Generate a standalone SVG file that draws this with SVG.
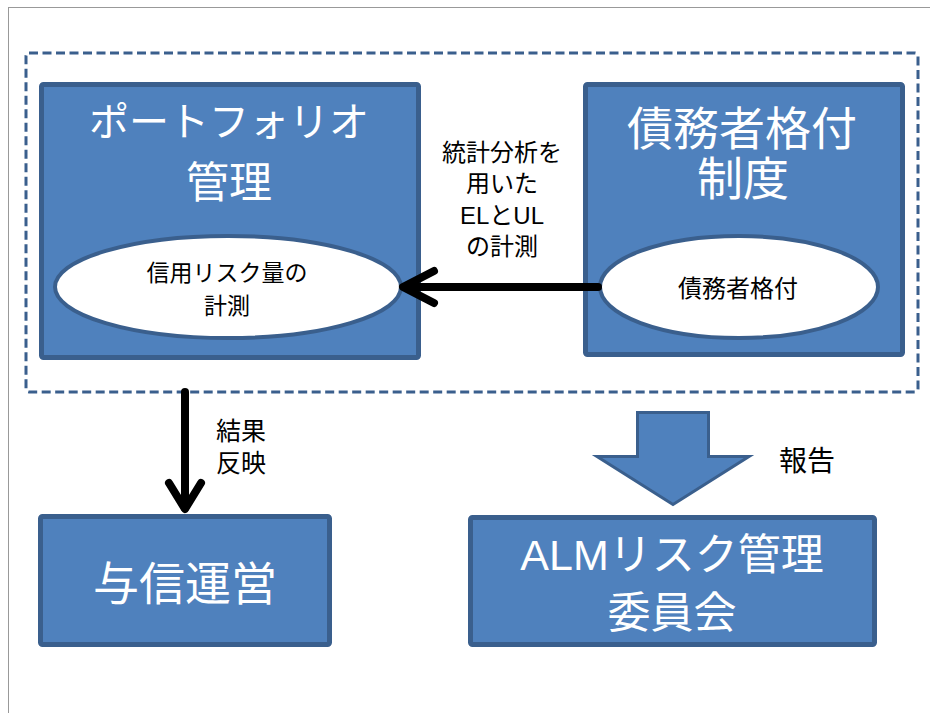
<svg xmlns="http://www.w3.org/2000/svg" width="930" height="713" viewBox="0 0 930 713">
<style>
text{font-family:"Liberation Sans","Noto Sans CJK JP",sans-serif;text-anchor:middle}
.box{fill:#4F81BD;stroke:#3A5F8D;stroke-width:5}
.ell{fill:#FFFFFF;stroke:#3A5F8D;stroke-width:4}
.title{fill:#FFFFFF;font-size:43px}
.etxt{fill:#000000;font-size:23px}
.lbl{fill:#000000;font-size:24px}
.conn{fill:none;stroke:#000000;stroke-width:8;stroke-linecap:round;stroke-linejoin:round}
</style>
<rect x="0" y="0" width="930" height="713" fill="#FFFFFF"/>
<rect x="8.5" y="7.5" width="940" height="720" fill="none" stroke="#333333" stroke-width="1" stroke-dasharray="1 1"/>
<rect x="26" y="53" width="892" height="339" rx="3" fill="none" stroke="#3A5F8D" stroke-width="3" stroke-dasharray="9 4.5"/>

<g id="portfolio">
<rect class="box" x="41.5" y="84.5" width="377" height="273" rx="2"/>
<text class="title" x="229" y="136" style="font-size:40px">ポートフォリオ</text>
<text class="title" x="229" y="198">管理</text>
</g>
<g id="measure">
<ellipse class="ell" cx="228" cy="287" rx="173" ry="51"/>
<text class="etxt" x="227" y="281">信用リスク量の</text>
<text class="etxt" x="227" y="314">計測</text>
</g>
<g id="rating-system">
<rect class="box" x="585.5" y="84.5" width="317" height="270" rx="2"/>
<text class="title" x="742" y="145" style="font-size:46px">債務者格付</text>
<text class="title" x="743" y="195" style="font-size:46px">制度</text>
</g>
<g id="rating">
<ellipse class="ell" cx="739" cy="287" rx="139" ry="51"/>
<text class="etxt" x="738" y="297" style="font-size:24px">債務者格付</text>
</g>
<g id="credit">
<rect class="box" x="40.5" y="516.5" width="289" height="128" rx="2"/>
<text class="title" x="185" y="600" style="font-size:46px">与信運営</text>
</g>
<g id="alm">
<rect class="box" x="470.5" y="517.5" width="404" height="127" rx="2"/>
<text class="title" x="672" y="570">ALMリスク管理</text>
<text class="title" x="672" y="628">委員会</text>
</g>

<g id="connectors">
<line class="conn" x1="598" y1="287" x2="405" y2="287"/>
<polyline class="conn" points="434,271 403,287 434,303"/>
<line class="conn" x1="185" y1="392" x2="185" y2="508"/>
<polyline class="conn" points="169,483 185,509 201,483"/>
<path d="M637.5,412.5 H708.5 V456.5 H749 L673,504.5 L597,456.5 H637.5 Z" fill="#4F81BD" stroke="#3A5F8D" stroke-width="3" stroke-linejoin="miter"/>
<text class="lbl" x="502" y="161">統計分析を</text>
<text class="lbl" x="502" y="192">用いた</text>
<text class="lbl" x="502" y="224">ELとUL</text>
<text class="lbl" x="502" y="255">の計測</text>
<text class="lbl" x="241" y="440" style="font-size:25px">結果</text>
<text class="lbl" x="241" y="472" style="font-size:25px">反映</text>
<text class="lbl" x="807" y="471" style="font-size:28px">報告</text>
</g>
</svg>
